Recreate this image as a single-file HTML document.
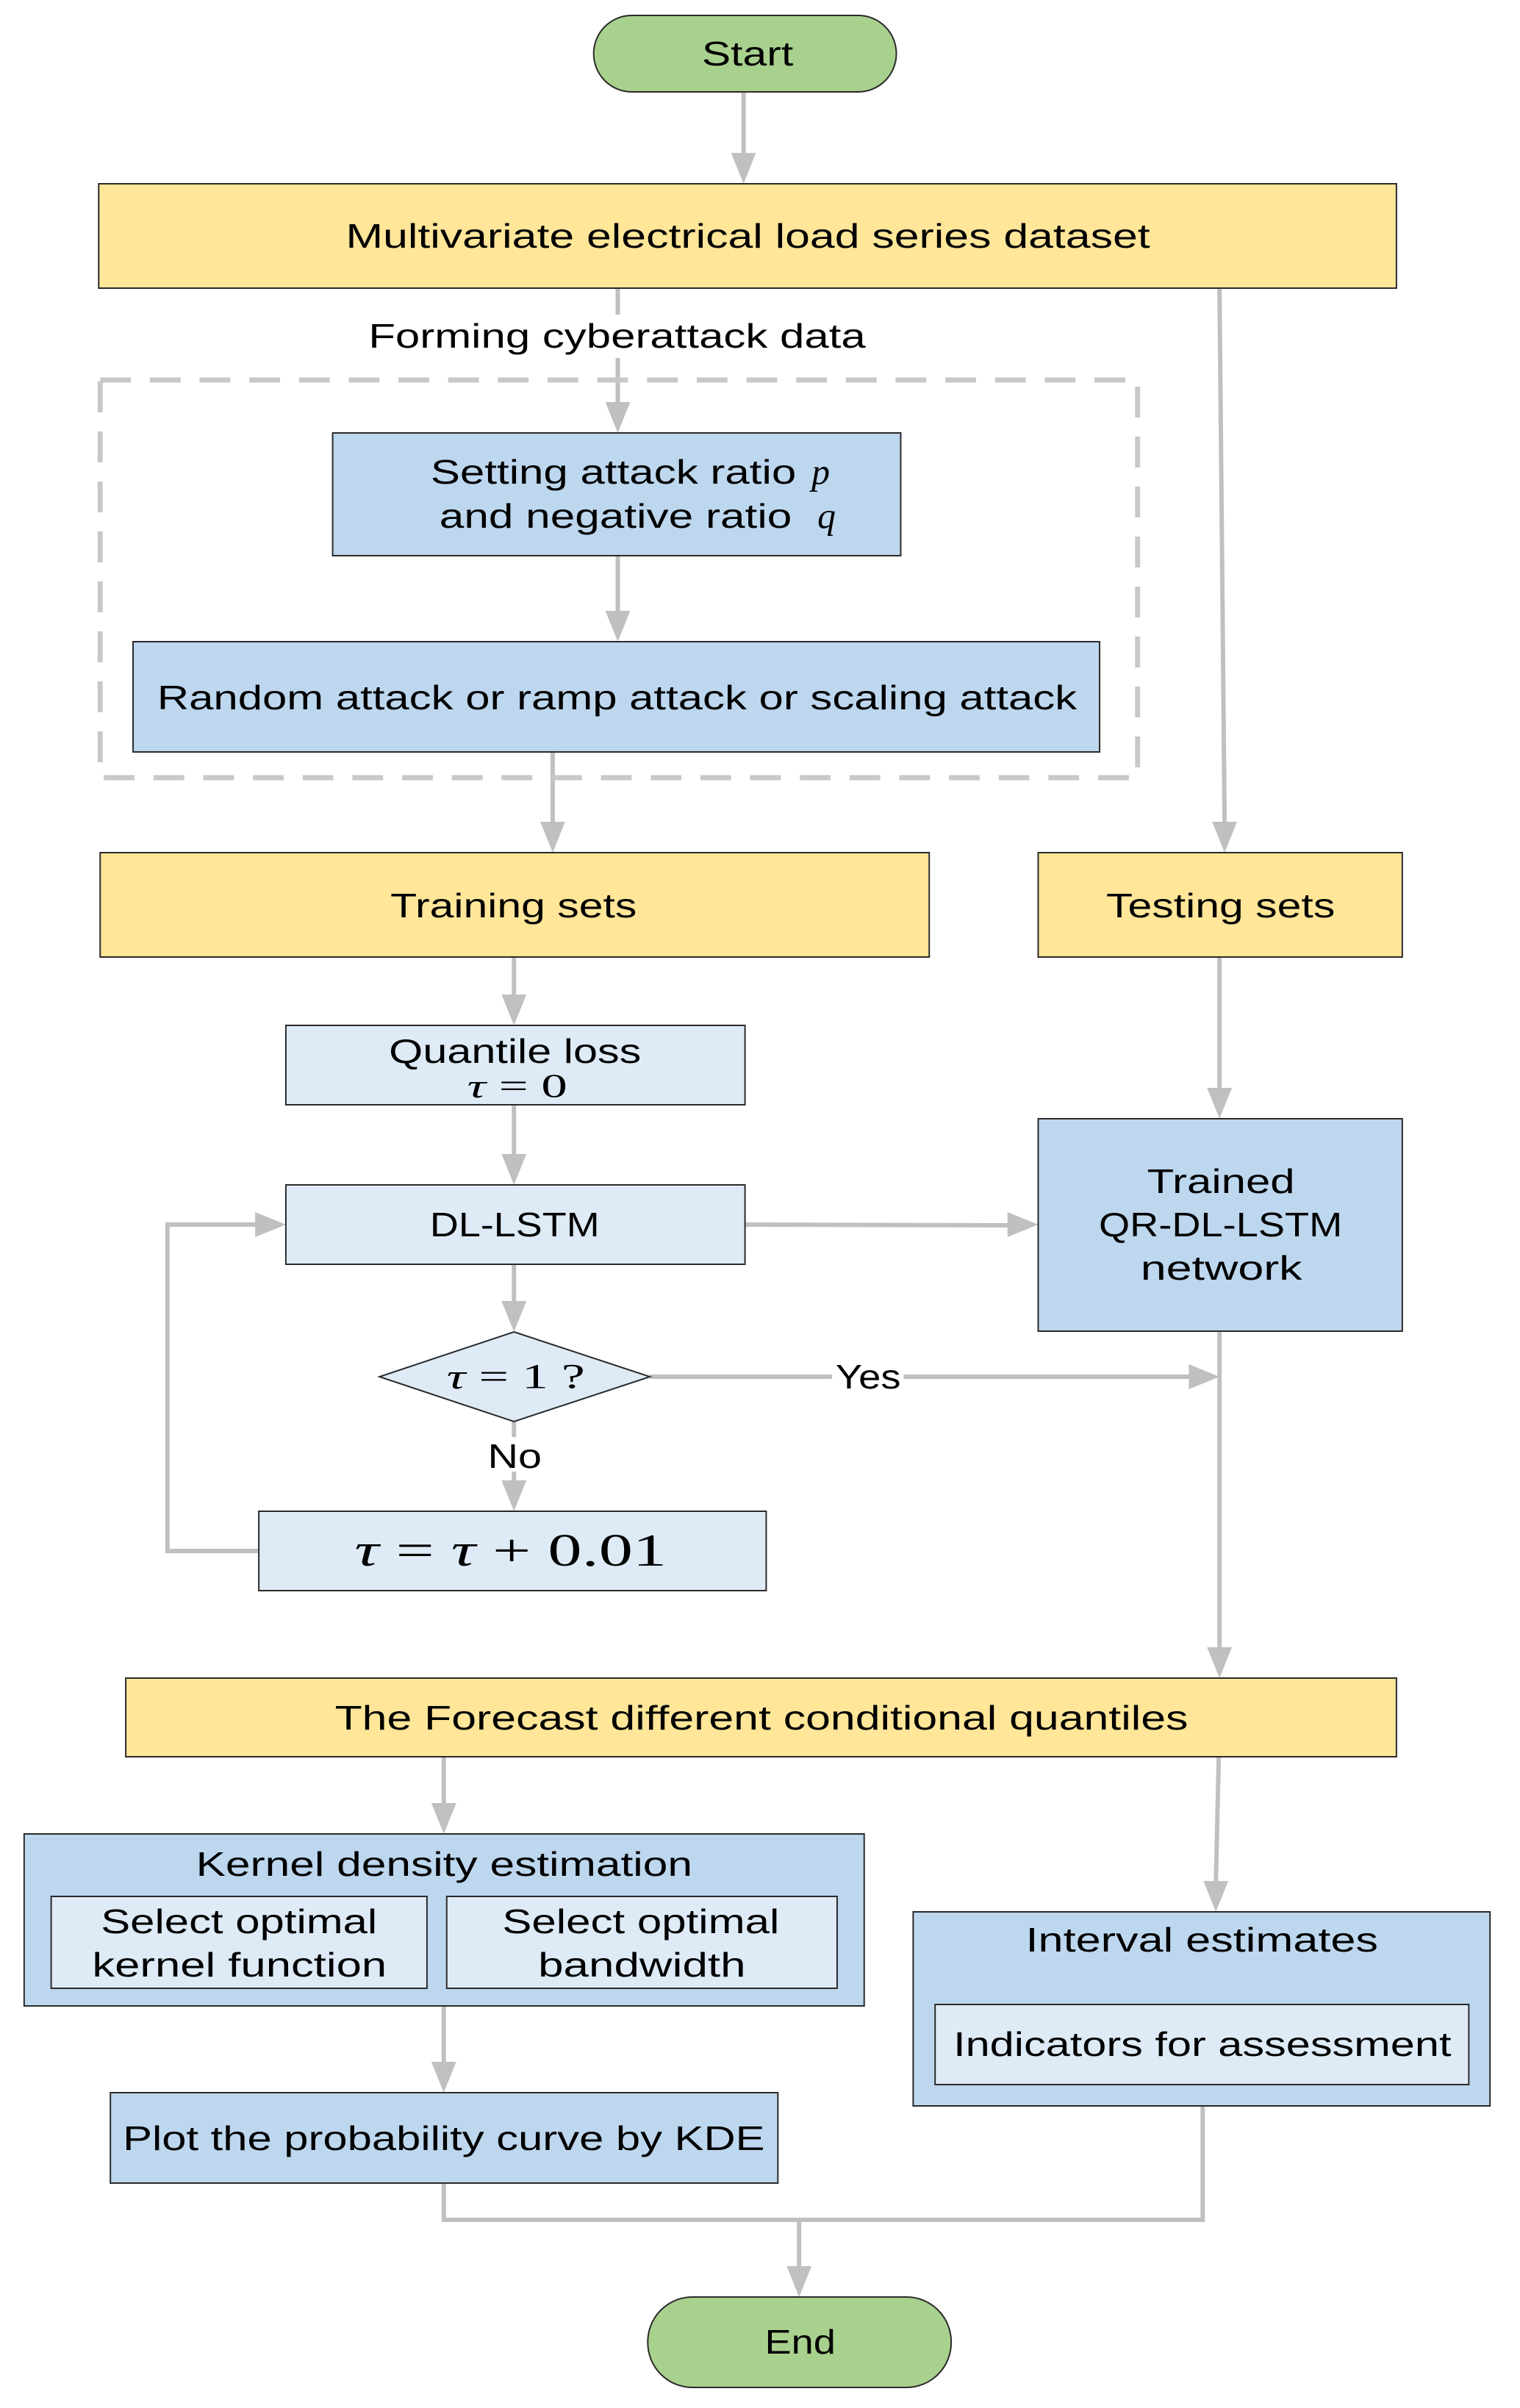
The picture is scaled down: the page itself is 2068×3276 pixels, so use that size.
<!DOCTYPE html>
<html><head><meta charset="utf-8"><style>html,body{margin:0;padding:0;background:#fff}svg{display:block}</style></head>
<body>
<svg width="2068" height="3276" viewBox="0 0 2068 3276" xmlns="http://www.w3.org/2000/svg" font-family="Liberation Sans, sans-serif" font-size="46">
<rect width="2068" height="3276" fill="#fff"/>
<g transform="scale(0.9947,1)">
<!-- connectors -->
<g stroke="#c0c0c0" stroke-width="6" fill="none">
<line x1="1017" y1="125" x2="1017" y2="212"/>
<line x1="845" y1="392" x2="845" y2="428"/>
<line x1="845" y1="487" x2="845" y2="550"/>
<line x1="845" y1="756" x2="845" y2="834"/>
<line x1="756" y1="1023" x2="756" y2="1121"/>
<line x1="1668" y1="392" x2="1675" y2="1121"/>
<line x1="703" y1="1302" x2="703" y2="1356"/>
<line x1="703" y1="1503" x2="703" y2="1573"/>
<line x1="703" y1="1720" x2="703" y2="1773"/>
<line x1="703" y1="1934" x2="703" y2="1955"/>
<line x1="703" y1="2002" x2="703" y2="2017"/>
<line x1="1668" y1="1302" x2="1668" y2="1483"/>
<line x1="1019" y1="1666" x2="1381" y2="1667"/>
<line x1="889" y1="1873" x2="1138" y2="1873"/>
<line x1="1236" y1="1873" x2="1629" y2="1873"/>
<line x1="1668" y1="1811" x2="1668" y2="2244"/>
<polyline points="354,2110 229,2110 229,1666 352,1666"/>
<line x1="607" y1="2390" x2="607" y2="2456"/>
<line x1="1667" y1="2390" x2="1663" y2="2562"/>
<line x1="607" y1="2729" x2="607" y2="2808"/>
<polyline points="607,2970 607,3020 1645,3020 1645,2865"/>
<line x1="1093" y1="3020" x2="1093" y2="3086"/>
</g>
<g fill="#c0c0c0">
<polygon points="1000,208 1034,208 1017,250"/>
<polygon points="828,547 862,547 845,589"/>
<polygon points="828,831 862,831 845,873"/>
<polygon points="739,1118 773,1118 756,1160"/>
<polygon points="1658,1118 1692,1118 1675,1160"/>
<polygon points="686,1353 720,1353 703,1395"/>
<polygon points="686,1570 720,1570 703,1612"/>
<polygon points="686,1770 720,1770 703,1812"/>
<polygon points="686,2014 720,2014 703,2056"/>
<polygon points="1651,1480 1685,1480 1668,1522"/>
<polygon points="1378,1649 1378,1683 1420,1666"/>
<polygon points="1626,1856 1626,1890 1668,1873"/>
<polygon points="1651,2241 1685,2241 1668,2283"/>
<polygon points="349,1649 349,1683 391,1666"/>
<polygon points="590,2453 624,2453 607,2495"/>
<polygon points="1646,2559 1680,2559 1663,2601"/>
<polygon points="590,2805 624,2805 607,2847"/>
<polygon points="1076,3083 1110,3083 1093,3125"/>
</g>
<!-- dashed group -->
<rect x="137" y="517" width="1419" height="541" fill="none" stroke="#c8c8c8" stroke-width="7" stroke-dasharray="42 26"/>
<!-- shapes -->
<g stroke="#2a2a2a" stroke-width="2">
<rect x="812" y="21" width="414" height="104" rx="52" fill="#a9d18e"/>
<rect x="135" y="250" width="1775" height="142" fill="#ffe699"/>
<rect x="455" y="589" width="777" height="167" fill="#bdd7ee"/>
<rect x="182" y="873" width="1322" height="150" fill="#bdd7ee"/>
<rect x="137" y="1160" width="1134" height="142" fill="#ffe699"/>
<rect x="1420" y="1160" width="498" height="142" fill="#ffe699"/>
<rect x="391" y="1395" width="628" height="108" fill="#deebf7"/>
<rect x="391" y="1612" width="628" height="108" fill="#deebf7"/>
<rect x="1420" y="1522" width="498" height="289" fill="#bdd7ee"/>
<polygon points="703,1812 889,1873 703,1934 519,1873" fill="#deebf7"/>
<rect x="354" y="2056" width="694" height="108" fill="#deebf7"/>
<rect x="172" y="2283" width="1738" height="107" fill="#ffe699"/>
<rect x="33" y="2495" width="1149" height="234" fill="#bdd7ee"/>
<rect x="70" y="2580" width="514" height="125" fill="#deebf7"/>
<rect x="611" y="2580" width="534" height="125" fill="#deebf7"/>
<rect x="1249" y="2601" width="789" height="264" fill="#bdd7ee"/>
<rect x="1279" y="2727" width="730" height="109" fill="#deebf7"/>
<rect x="151" y="2847" width="913" height="123" fill="#bdd7ee"/>
<rect x="886" y="3125" width="415" height="123" rx="61" fill="#a9d18e"/>
</g>
<!-- text -->
<g fill="#000" dominant-baseline="central">
<text x="960" y="73" textLength="125" lengthAdjust="spacingAndGlyphs">Start</text>
<text x="473" y="321" textLength="1100" lengthAdjust="spacingAndGlyphs">Multivariate electrical load series dataset</text>
<text x="504" y="457" textLength="680" lengthAdjust="spacingAndGlyphs">Forming cyberattack data</text>
<text x="589" y="642" textLength="500" lengthAdjust="spacingAndGlyphs">Setting attack ratio</text>
<text x="1110" y="642" font-family="Liberation Serif, serif" font-style="italic" font-size="50">p</text>
<text x="601" y="702" textLength="482" lengthAdjust="spacingAndGlyphs">and negative ratio</text>
<text x="1118" y="702" font-family="Liberation Serif, serif" font-style="italic" font-size="50">q</text>
<text x="215" y="949" textLength="1258" lengthAdjust="spacingAndGlyphs">Random attack or ramp attack or scaling attack</text>
<text x="534" y="1232" textLength="337" lengthAdjust="spacingAndGlyphs">Training sets</text>
<text x="1513" y="1232" textLength="313" lengthAdjust="spacingAndGlyphs">Testing sets</text>
<text x="532" y="1430" textLength="345" lengthAdjust="spacingAndGlyphs">Quantile loss</text>
<text x="639" y="1477" font-family="Liberation Serif, serif" font-size="46" textLength="137" lengthAdjust="spacingAndGlyphs"><tspan font-style="italic">τ</tspan> = 0</text>
<text x="588" y="1666" textLength="232" lengthAdjust="spacingAndGlyphs">DL-LSTM</text>
<text x="1569" y="1607" textLength="202" lengthAdjust="spacingAndGlyphs">Trained</text>
<text x="1503" y="1666" textLength="333" lengthAdjust="spacingAndGlyphs">QR-DL-LSTM</text>
<text x="1560" y="1725" textLength="221" lengthAdjust="spacingAndGlyphs">network</text>
<text x="611" y="1873" font-family="Liberation Serif, serif" font-size="48" textLength="189" lengthAdjust="spacingAndGlyphs"><tspan font-style="italic">τ</tspan> = 1 ?</text>
<text x="1143" y="1873" textLength="89" lengthAdjust="spacingAndGlyphs">Yes</text>
<text x="667" y="1981" textLength="74" lengthAdjust="spacingAndGlyphs">No</text>
<text x="485" y="2110" font-family="Liberation Serif, serif" font-size="62" textLength="427" lengthAdjust="spacingAndGlyphs"><tspan font-style="italic">τ</tspan> = <tspan font-style="italic">τ</tspan> + 0.01</text>
<text x="458" y="2337" textLength="1167" lengthAdjust="spacingAndGlyphs">The Forecast different conditional quantiles</text>
<text x="268" y="2536" textLength="679" lengthAdjust="spacingAndGlyphs">Kernel density estimation</text>
<text x="138" y="2614" textLength="378" lengthAdjust="spacingAndGlyphs">Select optimal</text>
<text x="126" y="2673" textLength="403" lengthAdjust="spacingAndGlyphs">kernel function</text>
<text x="687" y="2614" textLength="379" lengthAdjust="spacingAndGlyphs">Select optimal</text>
<text x="736" y="2673" textLength="284" lengthAdjust="spacingAndGlyphs">bandwidth</text>
<text x="1403" y="2639" textLength="482" lengthAdjust="spacingAndGlyphs">Interval estimates</text>
<text x="1304" y="2781" textLength="681" lengthAdjust="spacingAndGlyphs">Indicators for assessment</text>
<text x="168" y="2909" textLength="878" lengthAdjust="spacingAndGlyphs">Plot the probability curve by KDE</text>
<text x="1046" y="3186" textLength="97" lengthAdjust="spacingAndGlyphs">End</text>
</g>
</g>
</svg>
</body></html>
